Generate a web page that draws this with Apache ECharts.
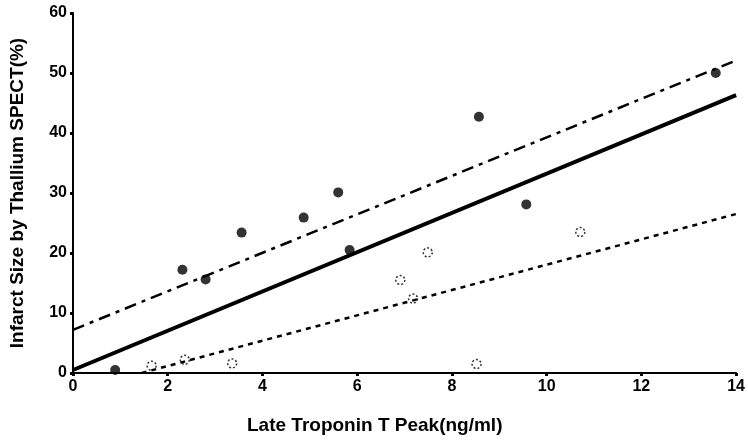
<!DOCTYPE html>
<html>
<head>
<meta charset="utf-8">
<script src="https://cdn.jsdelivr.net/npm/echarts@6/dist/echarts.min.js"></script>
<style>
  html, body { margin: 0; padding: 0; background: #fff; }
  #chart { width: 748px; height: 441px; }
</style>
</head>
<body>
<div id="chart"></div>
<script>
// filled points (troponin, infarct size)
const filledPts = [
    [0.89, 0.5], [2.31, 17.2], [2.80, 15.6], [3.56, 23.4], [4.87, 25.9],
    [5.60, 30.1], [5.84, 20.5], [8.57, 42.7], [9.57, 28.1], [13.57, 50.0]
];
// open points
const openPts = [
    [1.66, 1.2], [2.36, 2.2], [3.36, 1.6], [6.91, 15.5], [7.18, 12.4],
    [7.49, 20.1], [8.52, 1.5], [10.71, 23.5]
];
// regression lines, read as end points
const fitAll = [[0, 0.5], [14, 46.3]];
const fitUpper = [[0, 7.2], [14, 52.1]];
const fitLower = [[1.45, 0], [14, 26.5]];

const xTicks = { min: 0, max: 14, interval: 2 };
const yTicks = { min: 0, max: 60, interval: 10 };

const chart = echarts.init(document.getElementById('chart'));

const labelFont = {
    color: '#000',
    fontFamily: 'Liberation Sans, Arial, sans-serif',
    fontWeight: 'bold',
    fontSize: 16
};
const nameFont = {
    color: '#000',
    fontFamily: 'Liberation Sans, Arial, sans-serif',
    fontWeight: 'bold',
    fontSize: 19
};

chart.setOption({
    animation: false,
    backgroundColor: '#fff',
    grid: { left: 73, right: 11, top: 13, bottom: 68 },
    title: {
        text: 'Late Troponin T Peak(ng/ml)',
        left: 247,
        top: 416,
        padding: 0,
        textStyle: nameFont
    },
    xAxis: {
        type: 'value',
        min: xTicks.min, max: xTicks.max, interval: xTicks.interval,
        splitLine: { show: false },
        axisLine: { lineStyle: { color: '#000', width: 2 } },
        axisTick: { length: 3, lineStyle: { color: '#000', width: 3 } },
        axisLabel: Object.assign({ margin: 6 }, labelFont)
    },
    yAxis: {
        type: 'value',
        min: yTicks.min, max: yTicks.max, interval: yTicks.interval,
        name: 'Infarct Size by Thallium SPECT(%)',
        nameLocation: 'middle',
        nameGap: 46,
        nameTextStyle: nameFont,
        splitLine: { show: false },
        axisLine: { lineStyle: { color: '#000', width: 2 } },
        axisTick: { length: 3, lineStyle: { color: '#000', width: 3 } },
        axisLabel: Object.assign({ margin: 6 }, labelFont)
    },
    series: [
        {
            type: 'line', data: fitAll, symbol: 'none',
            lineStyle: { color: '#000', width: 4, type: 'solid' }
        },
        {
            type: 'line', data: fitUpper, symbol: 'none',
            lineStyle: { color: '#000', width: 2.5, type: [12, 6, 4, 6] }
        },
        {
            type: 'line', data: fitLower, symbol: 'none',
            lineStyle: { color: '#000', width: 2.5, type: [5, 5] }
        },
        {
            type: 'scatter', data: openPts, symbol: 'circle', symbolSize: 9,
            itemStyle: { color: '#fff', borderColor: '#000', borderWidth: 1.5, borderType: [2, 2] }
        },
        {
            type: 'scatter', data: filledPts, symbol: 'circle', symbolSize: 10,
            itemStyle: { color: '#000' }
        }
    ]
});
</script>
</body>
</html>
